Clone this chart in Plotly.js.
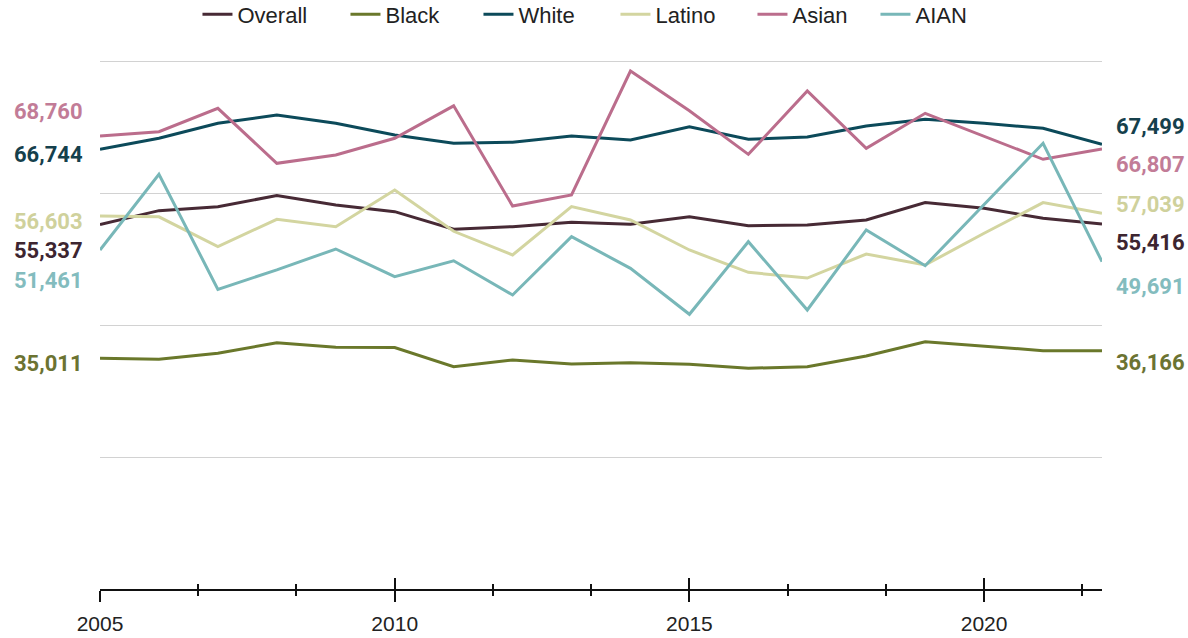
<!DOCTYPE html>
<html>
<head>
<meta charset="utf-8">
<script src="https://cdn.plot.ly/plotly-3.0.1.min.js"></script>
<style>
  html, body { margin: 0; padding: 0; background: #ffffff; }
  #chart { width: 1188px; height: 638px; }
</style>
</head>
<body>
<div id="chart"></div>
<script>
// ---- data ----
const years = [2005, 2006, 2007, 2008, 2009, 2010, 2011, 2012, 2013, 2014, 2015, 2016, 2017, 2018, 2019, 2020, 2021, 2022];
const overall = [55337, 57430, 58040, 59710, 58290, 57280, 54620, 55000, 55660, 55360, 56520, 55150, 55260, 56010, 58650, 57790, 56270, 55416];
const black   = [35011, 34870, 35780, 37390, 36690, 36640, 33750, 34760, 34160, 34360, 34110, 33500, 33750, 35370, 37540, 36890, 36180, 36166];
const white   = [66744, 68420, 70690, 71950, 70690, 68920, 67660, 67810, 68770, 68160, 70180, 68260, 68600, 70290, 71300, 70690, 69930, 67499];
const latino  = [56603, 56500, 51970, 56120, 55000, 60570, 54300, 50700, 58040, 56010, 51460, 48070, 47200, 50850, 49180, 54000, 58650, 57039];
const asian   = [68760, 69420, 72970, 64620, 65880, 68420, 73340, 58140, 59810, 78630, 72600, 65980, 75600, 66900, 72210, 68720, 65230, 66807];
const aian    = [51461, 62950, 45490, 48430, 51610, 47410, 49820, 44630, 53480, 48680, 41700, 52720, 42350, 54500, 49080, 58400, 67660, 49691];

const seriesNames = ['Overall', 'Black', 'White', 'Latino', 'Asian', 'AIAN'];
const seriesData  = [overall, black, white, latino, asian, aian];

// ---- styles ----
const lineColors  = ['#472a35', '#6a782b', '#0c4a5a', '#d3d5a0', '#bb6d8c', '#78b7b8'];
const labelColors = ['#3d2530', '#6b7332', '#15404c', '#cfd19c', '#c27c97', '#83bcbe'];
const legendWidths = [103, 88, 92, 92, 78, 52];
// vertical nudges (px) of the end labels so they don't collide
const leftShift  = [-26, -5, -5, -5, 25, -31];
const rightShift = [-19, -12, 18, 9, -16, -25];

const fmt = v => v.toLocaleString('en-US');

const traces = seriesNames.map((name, i) => ({
  type: 'scatter',
  mode: 'lines',
  name: name,
  x: years,
  y: seriesData[i],
  line: { color: lineColors[i], width: 3 },
  legendwidth: legendWidths[i],
  hoverinfo: 'x+y+name'
}));

// invisible trace so the overlay axis (cross ticks) is drawn
traces.push({
  type: 'scatter', mode: 'lines', x: years, y: overall,
  xaxis: 'x2', yaxis: 'y', showlegend: false, hoverinfo: 'skip',
  line: { width: 0, color: 'rgba(0,0,0,0)' }
});

const annotations = [];
seriesNames.forEach((name, i) => {
  const d = seriesData[i];
  annotations.push({
    xref: 'paper', yref: 'y', x: -0.015, y: d[0], xanchor: 'right', yanchor: 'middle',
    yshift: leftShift[i], showarrow: false, text: '<b>' + fmt(d[0]) + '</b>',
    font: { family: 'Roboto, sans-serif', size: 22, color: labelColors[i] }
  });
  annotations.push({
    xref: 'paper', yref: 'y', x: 1.012, y: d[d.length - 1], xanchor: 'left', yanchor: 'middle',
    yshift: rightShift[i], showarrow: false, text: '<b>' + fmt(d[d.length - 1]) + '</b>',
    font: { family: 'Roboto, sans-serif', size: 22, color: labelColors[i] }
  });
});

const layout = {
  width: 1188, height: 638,
  paper_bgcolor: '#ffffff', plot_bgcolor: '#ffffff',
  margin: { l: 100, r: 86, t: 60, b: 49, autoexpand: false },
  showlegend: true,
  legend: {
    orientation: 'h', x: 0.4924, xanchor: 'center', y: 1.126, yanchor: 'top',
    xref: 'container', yref: 'paper',
    font: { family: 'Liberation Sans, Arial, sans-serif', size: 22, color: '#222222' },
    bgcolor: 'rgba(0,0,0,0)'
  },
  xaxis: {
    range: [2005, 2022],
    showgrid: false, zeroline: false,
    showline: true, linecolor: '#111111', linewidth: 2,
    ticks: 'outside', ticklen: 11, tickwidth: 2, tickcolor: '#111111',
    tick0: 2005, dtick: 5, ticklabelstandoff: 4,
    minor: { ticks: 'outside', ticklen: 5, tickwidth: 2, tickcolor: '#111111', tick0: 2005, dtick: 5 / 3, showgrid: false },
    tickfont: { family: 'Liberation Sans, Arial, sans-serif', size: 21, color: '#222222' },
    fixedrange: true
  },
  xaxis2: {
    overlaying: 'x', anchor: 'y', side: 'bottom',
    range: [2005, 2022],
    showgrid: false, zeroline: false, showline: false, showticklabels: false,
    ticks: 'inside', ticklen: 11, tickwidth: 2, tickcolor: '#111111',
    tick0: 2005, dtick: 5,
    minor: { ticks: 'inside', ticklen: 5, tickwidth: 2, tickcolor: '#111111', tick0: 2005, dtick: 5 / 3, showgrid: false },
    fixedrange: true
  },
  yaxis: {
    range: [0, 80300],
    dtick: 20000, tick0: 0,
    showgrid: true, gridcolor: '#d2d2d2', gridwidth: 1,
    zeroline: false, showline: false, showticklabels: false, ticks: '',
    fixedrange: true
  },
  annotations: annotations
};

Plotly.newPlot('chart', traces, layout, { displayModeBar: false, staticPlot: true });
</script>
</body>
</html>
